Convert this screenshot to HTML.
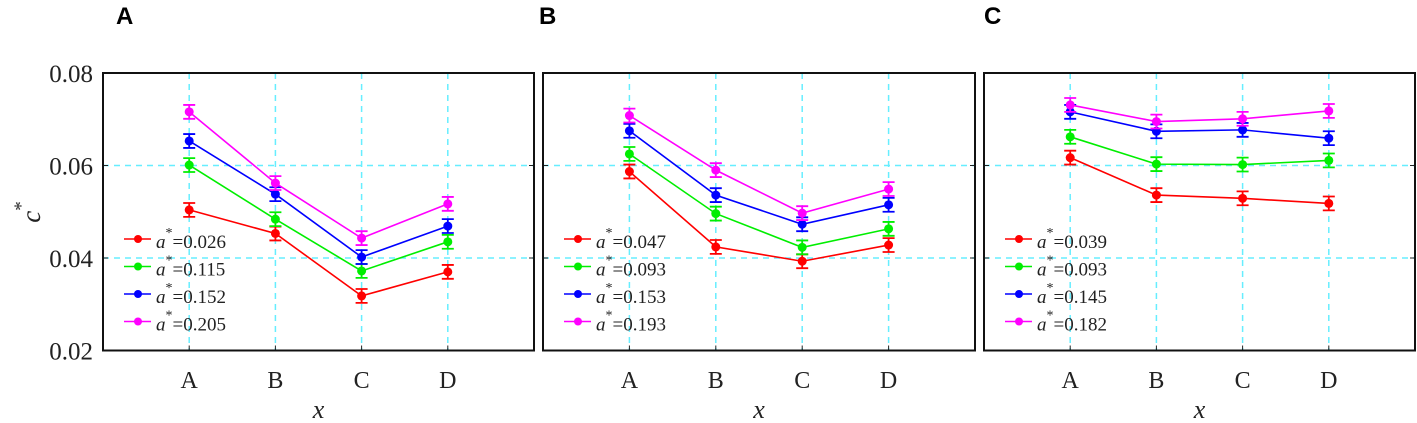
<!DOCTYPE html>
<html><head><meta charset="utf-8"><style>
html,body{margin:0;padding:0;background:#fff;}
svg{display:block;}
</style></head><body>
<svg id="chart" width="1417" height="423" xmlns="http://www.w3.org/2000/svg"></svg>
<script>
const categories = ["A","B","C","D"];
const yTicks = [0.02,0.04,0.06,0.08];
const yTickLabels = ["0.02","0.04","0.06","0.08"];
const panelTitles = ["A","B","C"];
const seriesColors = ["#ff0000","#00ee00","#0000ff","#ff00ff"];
const legendA = ["0.026","0.115","0.152","0.205"];
const legendB = ["0.047","0.093","0.153","0.193"];
const legendC = ["0.039","0.093","0.145","0.182"];
const panelA_red = [0.0504,0.0453,0.0318,0.0370];
const panelA_green = [0.0601,0.0484,0.0372,0.0435];
const panelA_blue = [0.0653,0.0538,0.0402,0.0469];
const panelA_magenta = [0.0716,0.0562,0.0443,0.0517];
const panelB_red = [0.0587,0.0424,0.0393,0.0428];
const panelB_green = [0.0625,0.0496,0.0423,0.0463];
const panelB_blue = [0.0675,0.0536,0.0473,0.0515];
const panelB_magenta = [0.0708,0.0590,0.0497,0.0549];
const panelC_red = [0.0617,0.0536,0.0529,0.0518];
const panelC_green = [0.0662,0.0603,0.0602,0.0611];
const panelC_blue = [0.0716,0.0674,0.0677,0.0659];
const panelC_magenta = [0.0731,0.0695,0.0701,0.0718];
const errHalf = 0.0015;

const NS = "http://www.w3.org/2000/svg";
const svg = document.getElementById("chart");
function mk(tag, attrs, parent){
  const e = document.createElementNS(NS, tag);
  for (const k in attrs) e.setAttribute(k, attrs[k]);
  (parent||svg).appendChild(e);
  return e;
}
const plotTop = 73, plotBottom = 350.5;
function yScale(v){ return plotBottom - (v-0.02)/(0.08-0.02)*(plotBottom-plotTop); }

const panels = [
  {left:103, right:534, title:panelTitles[0], tx:116, legend:legendA, data:[panelA_red,panelA_green,panelA_blue,panelA_magenta]},
  {left:543, right:975, title:panelTitles[1], tx:539, legend:legendB, data:[panelB_red,panelB_green,panelB_blue,panelB_magenta]},
  {left:984, right:1415, title:panelTitles[2], tx:984, legend:legendC, data:[panelC_red,panelC_green,panelC_blue,panelC_magenta]}
];

panels.forEach((p) => {
  const g = mk("g", {});
  
  
  const step = (p.right - p.left) / 5;
  function xScale(i){ return p.left + step*(i+1); }

  const t = mk("text", {x:p.tx, y:24, "font-family":"Liberation Sans, sans-serif", "font-weight":"bold", "font-size":"24"}, g);
  t.textContent = p.title;
  
  

  [0.04,0.06].forEach(v=>{
    const l = mk("line",{x1:p.left,x2:p.right,y1:yScale(v),y2:yScale(v),stroke:"#66eeff","stroke-width":1.5,"stroke-dasharray":"6,5"},g);
    
    
    mk("line",{x1:p.right-5,x2:p.right,y1:yScale(v),y2:yScale(v),stroke:"#222","stroke-width":1},g);
    mk("line",{x1:p.left,x2:p.left+5,y1:yScale(v),y2:yScale(v),stroke:"#222","stroke-width":1},g);
  });
  categories.forEach((c,i)=>{
    const l = mk("line",{x1:xScale(i),x2:xScale(i),y1:plotTop,y2:plotBottom,stroke:"#66eeff","stroke-width":1.5,"stroke-dasharray":"6,5"},g);
    
    
    mk("line",{x1:xScale(i),x2:xScale(i),y1:plotBottom-5,y2:plotBottom,stroke:"#222","stroke-width":1},g);
    const tl = mk("text",{x:xScale(i),y:388,"text-anchor":"middle","font-family":"Liberation Serif, serif","font-size":"24",fill:"#222"},g);
    tl.textContent = c;
    
    
  });
  const xl = mk("text",{x:(p.left+p.right)/2,y:418,"text-anchor":"middle","font-family":"Liberation Serif, serif","font-style":"italic","font-size":"26",fill:"#222"},g);
  xl.textContent = "x";
  
  

  const box = mk("rect",{x:p.left,y:plotTop,width:p.right-p.left,height:plotBottom-plotTop,fill:"none",stroke:"#111","stroke-width":2},g);
  
  

  p.data.forEach((vals, si)=>{
    const col = seriesColors[si];
    const sg = mk("g",{},g);
    
    
    const pts = vals.map((v,i)=>xScale(i)+","+yScale(v)).join(" ");
    const pl = mk("polyline",{points:pts,fill:"none",stroke:col,"stroke-width":1.6},sg);
    
    
    vals.forEach((v,i)=>{
      const x = xScale(i), y1 = yScale(v+errHalf), y2 = yScale(v-errHalf);
      const eb = mk("path",{d:`M${x},${y1}V${y2}M${x-6},${y1}H${x+6}M${x-6},${y2}H${x+6}`,stroke:col,"stroke-width":1.8,fill:"none"},sg);
      
      
      const m = mk("circle",{cx:x,cy:yScale(v),r:4.5,fill:col},sg);
      
      
    });
  });

  const lx = p.left + 21;
  p.legend.forEach((lab, si)=>{
    const y = 239 + si*27.5;
    const lg = mk("g",{},g);
    
    
    mk("line",{x1:lx,x2:lx+27,y1:y,y2:y,stroke:seriesColors[si],"stroke-width":1.6},lg);
    mk("circle",{cx:lx+14,cy:y,r:4,fill:seriesColors[si]},lg);
    const tx = mk("text",{x:lx+32,y:y+9,"font-family":"Liberation Serif, serif","font-size":"19",fill:"#222"},lg);
    const a = mk("tspan",{"font-style":"italic"},tx); a.textContent="a";
    const s = mk("tspan",{dy:-11,"font-size":"14"},tx); s.textContent="*";
    const r = mk("tspan",{dy:11},tx); r.textContent="="+lab;
  });
});

yTicks.forEach((v,i)=>{
  const t = mk("text",{x:93,y:yScale(v)+9,"text-anchor":"end","font-family":"Liberation Serif, serif","font-size":"25",fill:"#222"});
  t.textContent = yTickLabels[i];
  
  
});
const yl = mk("text",{transform:"translate(40,212) rotate(-90)","text-anchor":"middle","font-family":"Liberation Serif, serif","font-size":"27",fill:"#222"});
const c1 = mk("tspan",{"font-style":"italic"},yl); c1.textContent="c";
const c2 = mk("tspan",{dy:-13,"font-size":"19"},yl); c2.textContent="*";


</script>
</body></html>
